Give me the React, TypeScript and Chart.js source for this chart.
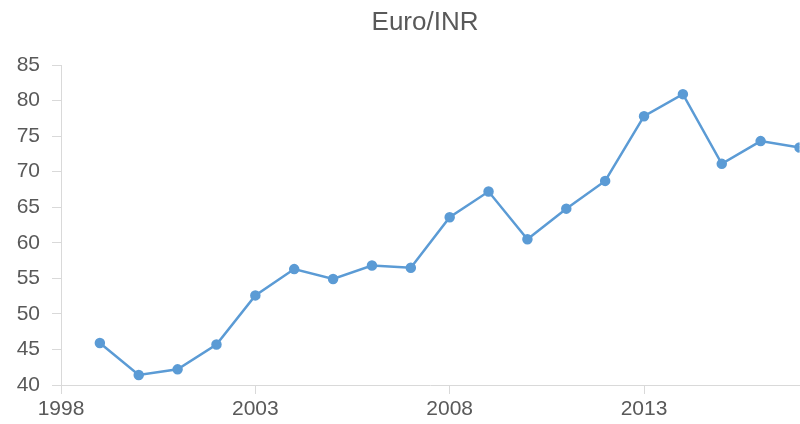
import React, { useEffect, useRef } from "react";
import { Chart, registerables } from "chart.js";

Chart.register(...registerables);

const TITLE = "Euro/INR";
const years = [1999, 2000, 2001, 2002, 2003, 2004, 2005, 2006, 2007, 2008, 2009, 2010, 2011, 2012, 2013, 2014, 2015, 2016, 2017];
const rates = [45.9, 41.4, 42.2, 45.7, 52.6, 56.3, 54.9, 56.8, 56.5, 63.6, 67.2, 60.5, 64.8, 68.7, 77.8, 80.9, 71.1, 74.3, 73.4];
const xTickValues = [1998, 2003, 2008, 2013];
const xMin = 1998;
const xMax = 2017;
const yMin = 40;
const yMax = 85;
const yStep = 5;

const FONT = "'Liberation Sans', Arial, sans-serif";
const TEXT = "#595959";
const AXIS = "#d9d9d9";
const BLUE = "#5b9bd5";

const titlePlugin = {
  id: "customTitle",
  afterDraw(chart: any) {
    const ctx = chart.ctx;
    ctx.save();
    ctx.font = `26px ${FONT}`;
    ctx.fillStyle = TEXT;
    ctx.textAlign = "center";
    ctx.textBaseline = "alphabetic";
    ctx.fillText(TITLE, 425, 30);
    ctx.restore();
  },
};

export default function App() {
  const ref = useRef<HTMLCanvasElement | null>(null);
  useEffect(() => {
    if (!ref.current) return;
    const chart = new Chart(ref.current, {
      type: "line",
      data: {
        datasets: [
          {
            label: TITLE,
            data: years.map((y, i) => ({ x: y, y: rates[i] })),
            borderColor: BLUE,
            backgroundColor: BLUE,
            borderWidth: 2.5,
            pointRadius: 4,
            pointBackgroundColor: BLUE,
            pointBorderColor: BLUE,
            tension: 0,
            fill: false,
          },
        ],
      },
      options: {
        animation: false,
        responsive: true,
        maintainAspectRatio: false,
        layout: { padding: { top: 65, left: 0, right: 3, bottom: 0 } },
        plugins: {
          legend: { display: false },
          title: { display: false },
          tooltip: { enabled: false },
        },
        scales: {
          x: {
            type: "linear",
            min: xMin,
            max: xMax,
            afterBuildTicks(scale: any) {
              scale.ticks = xTickValues.map((v) => ({ value: v }));
            },
            afterFit(scale: any) {
              scale.height = 39;
            },
            border: { display: true, color: AXIS, width: 1 },
            grid: { drawOnChartArea: false, drawTicks: true, tickLength: 9, color: AXIS },
            ticks: {
              padding: 3,
              color: TEXT,
              font: { family: FONT, size: 21 },
              maxRotation: 0,
              autoSkip: false,
              callback: (v: any) => String(v),
            },
          },
          y: {
            min: yMin,
            max: yMax,
            afterFit(scale: any) {
              scale.width = 61;
            },
            border: { display: true, color: AXIS, width: 1 },
            grid: { drawOnChartArea: false, drawTicks: true, tickLength: 9, color: AXIS },
            ticks: {
              stepSize: yStep,
              padding: 12,
              color: TEXT,
              font: { family: FONT, size: 21 },
              callback: (v: any) => String(v),
            },
          },
        },
      },
      plugins: [titlePlugin],
    });
    return () => chart.destroy();
  }, []);

  return (
    <div style={{ position: "fixed", left: 0, top: 0, width: 800, height: 424, overflow: "hidden", background: "#fff" }}>
      <div style={{ position: "relative", width: 806, height: 424 }}>
        <canvas ref={ref} />
      </div>
    </div>
  );
}
